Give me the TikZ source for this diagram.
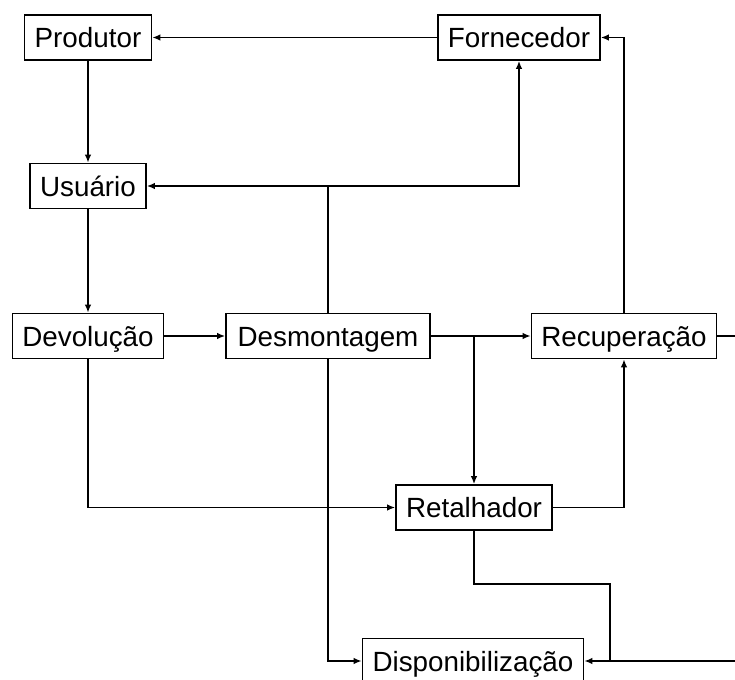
\documentclass[tikz,border=0pt]{standalone}
\usepackage{fontspec}
\setmainfont{Liberation Sans}
\usetikzlibrary{arrows.meta}
\begin{document}
\begin{tikzpicture}[x=1pt,y=-1pt,
  box/.style={draw, line width=1.6pt, minimum height=45pt, inner sep=0pt,
    text height=24pt, text depth=4pt,
    font=\fontsize{27.8}{30}\selectfont},
  conn/.style={line width=1.6pt, -{Latex[length=8pt,width=6.5pt]}},
  plain/.style={line width=1.6pt}]
\useasboundingbox (0,0) rectangle (735,679);

% process boxes
\node[box, minimum width=127pt] (prod) at (88,37.5)    {Produtor};
\node[box, minimum width=162pt] (forn) at (519,37.5)   {Fornecedor};
\node[box, minimum width=116pt] (usu)  at (88,186)     {Usuário};
\node[box, minimum width=151pt] (dev)  at (88,336)     {Devolução};
\node[box, minimum width=204pt] (desm) at (328,336)    {Desmontagem};
\node[box, minimum width=185pt] (rec)  at (624,336)    {Recuperação};
\node[box, minimum width=156pt] (ret)  at (474,507.5)  {Retalhador};
\node[box, minimum width=221pt] (disp) at (473,661)    {Disponibilização};

% bend points and loose ends
\coordinate (bend) at (610,584);
\coordinate (outR) at (735,336);
\coordinate (outB) at (735,661);

% flows
\draw[conn] (forn.west) -- (prod.east);
\draw[conn] (prod.south) -- (usu.north);
\draw[conn] (desm.north) |- (usu.east);
\draw[conn] (desm.north |- usu.east) -| (forn.south);
\draw[conn] (desm.south) |- (disp.west);
\draw[conn] (usu.south) -- (dev.north);
\draw[conn] (dev.east) -- (desm.west);
\draw[conn] (desm.east) -- (rec.west);
\draw[conn] (desm.east -| ret.north) -- (ret.north);
\draw[conn] (dev.south) |- (ret.west);
\draw[conn] (ret.east) -| (rec.south);
\draw[conn] (rec.north) |- (forn.east);
\draw[plain] (rec.east) -- (outR);
\draw[conn] (ret.south) |- (bend) |- (disp.east);
\draw[plain] (outB) -- (disp.east -| bend);
\end{tikzpicture}
\end{document}
